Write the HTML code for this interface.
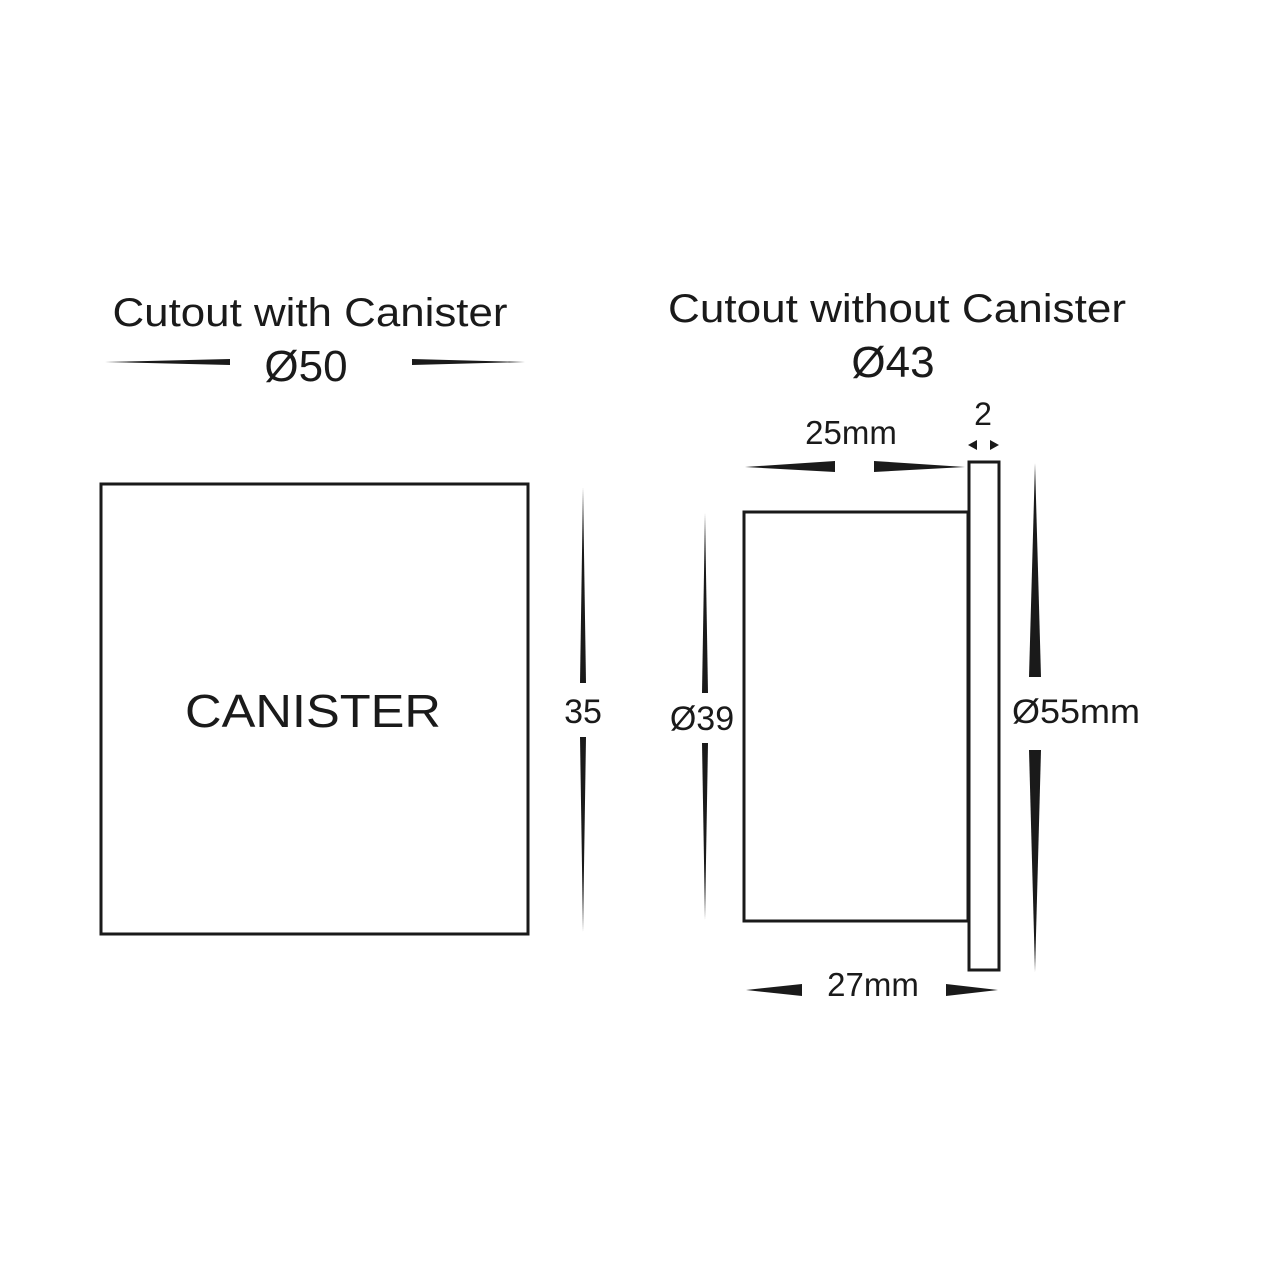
<!DOCTYPE html>
<html><head><meta charset="utf-8"><style>
html,body{margin:0;padding:0;background:#fff;}
svg{display:block;}
text{font-family:"Liberation Sans",Arial,sans-serif;fill:#1a1a1a;}
</style></head><body>
<svg width="1280" height="1280" viewBox="0 0 1280 1280" xmlns="http://www.w3.org/2000/svg">
<rect width="1280" height="1280" fill="#fff"/>
<g fill="#1a1a1a">
<polygon points="105,362 230,359 230,365"/>
<polygon points="525,362 412,359 412,365"/>
<polygon points="583,487 580,683 586,683"/>
<polygon points="583,932 580,737 586,737"/>
<polygon points="705,513 702,693 708,693"/>
<polygon points="705,920 702,743 708,743"/>
<polygon points="1035,463 1029,677 1041,677"/>
<polygon points="1035,972 1029,750 1041,750"/>
<polygon points="745,467 835,461 835,472"/>
<polygon points="965,467 874,461 874,472"/>
<polygon points="746,990 802,984 802,996"/>
<polygon points="998,990 946,984 946,996"/>
<polygon points="968,445 977,440 977,450"/>
<polygon points="999,445 990,440 990,450"/>
</g>
<g fill="none" stroke="#1a1a1a" stroke-width="3">
<rect x="101" y="484" width="427" height="450"/>
<rect x="744" y="512" width="224" height="409"/>
<rect x="969" y="462" width="30" height="508"/>
</g>
<text x="310" y="326" font-size="40" text-anchor="middle" textLength="395" lengthAdjust="spacingAndGlyphs">Cutout with Canister</text>
<text x="306" y="381" font-size="44" text-anchor="middle">Ø50</text>
<text x="897" y="322" font-size="40" text-anchor="middle" textLength="458" lengthAdjust="spacingAndGlyphs">Cutout without Canister</text>
<text x="893" y="377" font-size="44" text-anchor="middle">Ø43</text>
<text x="313" y="727" font-size="46" text-anchor="middle" textLength="256" lengthAdjust="spacingAndGlyphs">CANISTER</text>
<text x="583" y="723" font-size="34" text-anchor="middle">35</text>
<text x="702" y="730" font-size="34" text-anchor="middle">Ø39</text>
<text x="1076" y="723" font-size="34" text-anchor="middle" textLength="128" lengthAdjust="spacingAndGlyphs">Ø55mm</text>
<text x="851" y="444" font-size="33" text-anchor="middle">25mm</text>
<text x="983" y="425" font-size="32" text-anchor="middle">2</text>
<text x="873" y="996" font-size="33" text-anchor="middle">27mm</text>
</svg>
</body></html>
